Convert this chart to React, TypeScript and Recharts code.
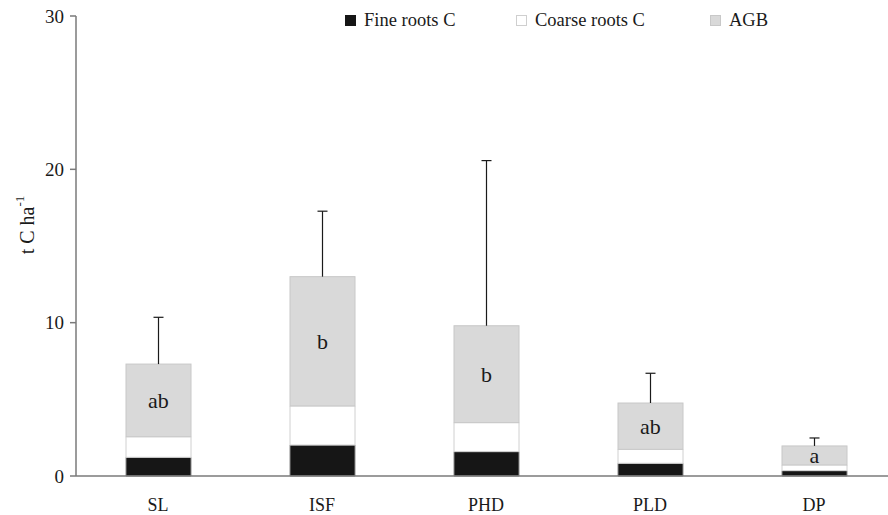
import React from 'react';
import { BarChart, Bar, XAxis, YAxis, LabelList } from 'recharts';

// carbon stocks per land use
const sites = ['SL', 'ISF', 'PHD', 'PLD', 'DP'];
const fineRoots = [1.22, 2.02, 1.59, 0.83, 0.35];
const coarseRoots = [1.34, 2.55, 1.89, 0.91, 0.37];
const agbValues = [4.74, 8.43, 6.32, 3.02, 1.24];
const totalSd = [3.05, 4.27, 10.77, 1.94, 0.52];
const letters = ['ab', 'b', 'b', 'ab', 'a'];
const yTicks = [0, 10, 20, 30];

const data = sites.map((site, i) => ({
  site,
  fine: fineRoots[i],
  coarse: coarseRoots[i],
  agb: agbValues[i],
  sd: totalSd[i],
  letter: letters[i],
}));

const FONT = 'Liberation Serif, Times New Roman, serif';
const AXIS = '#7a7a7a';

const legendItems = [
  { name: 'Fine roots C', fill: '#161616', stroke: '#161616', left: 345 },
  { name: 'Coarse roots C', fill: '#ffffff', stroke: '#cfcfcf', left: 516 },
  { name: 'AGB', fill: '#d9d9d9', stroke: '#c8c8c8', left: 710 },
];

// drawn as an overlay so it doesn't push the plot area down
const ChartLegend = () => (
  <div style={{ position: 'absolute', left: 0, top: 10, width: 888, height: 24, fontFamily: FONT, fontSize: 18.5, color: '#1a1a1a' }}>
    {legendItems.map((item) => (
      <div key={item.name} style={{ position: 'absolute', left: item.left, top: 0, display: 'flex', alignItems: 'center', whiteSpace: 'nowrap' }}>
        <span style={{ display: 'inline-block', width: 9, height: 9, background: item.fill, border: `1px solid ${item.stroke}`, marginRight: 8 }} />
        <span>{item.name}</span>
      </div>
    ))}
  </div>
);

// AGB segment plus the upper-only error whisker on top of the stack
const AgbShape = (props: any) => {
  const { x, y, width, height, payload } = props;
  const perUnit = height / payload.agb;
  const errLen = payload.sd * perUnit;
  const cx = x + width / 2;
  return (
    <g>
      <rect x={x} y={y} width={width} height={height} fill="#d9d9d9" stroke="#c8c8c8" strokeWidth={1} />
      <line x1={cx} y1={y} x2={cx} y2={y - errLen} stroke="#1a1a1a" strokeWidth={1.2} />
      <line x1={cx - 5} x2={cx + 5} y1={y - errLen} y2={y - errLen} stroke="#1a1a1a" strokeWidth={1.2} />
    </g>
  );
};

const YLabel = (props: any) => {
  const { viewBox } = props;
  const x = 27;
  const y = viewBox.y + viewBox.height / 2 - 21;
  return (
    <text x={x} y={y} transform={`rotate(-90, ${x}, ${y})`} textAnchor="middle" dominantBaseline="central"
      fontFamily={FONT} fontSize={20} fill="#1a1a1a">
      t C ha<tspan dy={-8} fontSize={13}>-1</tspan>
    </text>
  );
};

const App = () => {
  return (
    <div style={{ position: 'absolute', left: 0, top: 0, width: 888, height: 515, overflow: 'hidden', background: '#fff', fontFamily: FONT }}>
      <BarChart
        width={900}
        height={515}
        data={data}
        margin={{ top: 16, right: 4, left: 16, bottom: 9 }}
        barSize={65}
        style={{ fontFamily: FONT }}
      >
        <XAxis
          dataKey="site"
          axisLine={{ stroke: AXIS, strokeWidth: 1.5 }}
          tickLine={false}
          tickSize={0}
          tickMargin={22}
          height={30}
          tick={{ fill: '#1a1a1a', fontSize: 18, fontFamily: FONT }}
        />
        <YAxis
          domain={[0, 30]}
          ticks={yTicks}
          width={60}
          axisLine={{ stroke: AXIS, strokeWidth: 1.5 }}
          tickLine={{ stroke: AXIS, strokeWidth: 1.5 }}
          tickSize={6}
          tickMargin={6}
          tick={{ fill: '#1a1a1a', fontSize: 19, fontFamily: FONT }}
          label={<YLabel />}
        />
        <Bar dataKey="fine" name="Fine roots C" stackId="c" fill="#161616" stroke="#8a8a8a" strokeWidth={1} isAnimationActive={false} />
        <Bar dataKey="coarse" name="Coarse roots C" stackId="c" fill="#ffffff" stroke="#d0d0d0" strokeWidth={1} isAnimationActive={false} />
        <Bar dataKey="agb" name="AGB" stackId="c" fill="#d9d9d9" shape={<AgbShape />} isAnimationActive={false}>
          <LabelList dataKey="letter" position="center" fill="#1a1a1a" fontSize={22} fontFamily={FONT} />
        </Bar>
      </BarChart>
      <ChartLegend />
    </div>
  );
};

export default App;
